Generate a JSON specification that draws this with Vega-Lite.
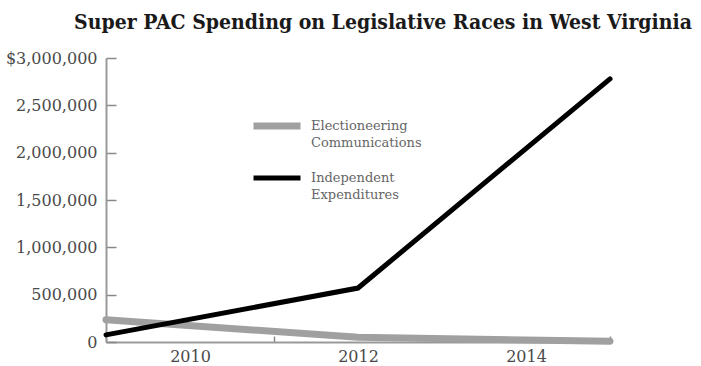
{
  "$schema": "https://vega.github.io/schema/vega-lite/v6.json",
  "width": 504,
  "height": 284,
  "autosize": "none",
  "padding": {"left": 106, "top": 58, "right": 91, "bottom": 24},
  "background": "white",
  "title": {
    "text": "Super PAC Spending on Legislative Races in West Virginia",
    "font": "DejaVu Serif Condensed",
    "fontSize": 21,
    "fontWeight": "bold",
    "color": "#1a1a1a",
    "anchor": "middle",
    "dx": 25,
    "dy": 20,
    "baseline": "alphabetic",
    "offset": 20
  },
  "data": {
    "values": [
      {"year": 2009, "series": "Electioneering Communications", "amount": 235000},
      {"year": 2012, "series": "Electioneering Communications", "amount": 50000},
      {"year": 2015, "series": "Electioneering Communications", "amount": 8000},
      {"year": 2009, "series": "Independent Expenditures", "amount": 75000},
      {"year": 2012, "series": "Independent Expenditures", "amount": 570000},
      {"year": 2015, "series": "Independent Expenditures", "amount": 2780000}
    ]
  },
  "mark": {"type": "line", "strokeCap": "round", "strokeJoin": "miter"},
  "encoding": {
    "x": {
      "field": "year",
      "type": "quantitative",
      "scale": {"domain": [2009, 2015], "nice": false, "zero": false},
      "axis": {
        "title": null,
        "grid": false,
        "values": [2009, 2010, 2011, 2012, 2013, 2014, 2015],
        "format": "d",
        "labelExpr": "datum.value % 2 == 0 ? datum.label : ''",
        "tickOpacity": {"condition": {"test": "datum.value % 2 == 0", "value": 0}, "value": 1},
        "tickSize": -6,
        "tickWidth": 1.5,
        "tickColor": "#888888",
        "domainColor": "#999999",
        "domainWidth": 2,
        "labelFont": "DejaVu Serif",
        "labelFontSize": 16,
        "labelColor": "#4a4a4a",
        "labelPadding": 12,
        "labelFlush": false
      }
    },
    "y": {
      "field": "amount",
      "type": "quantitative",
      "scale": {"domain": [0, 3000000], "nice": false},
      "axis": {
        "title": null,
        "grid": false,
        "values": [0, 500000, 1000000, 1500000, 2000000, 2500000, 3000000],
        "labelExpr": "datum.value == 3000000 ? '$3,000,000' : format(datum.value, ',')",
        "tickSize": -10,
        "tickWidth": 1.5,
        "tickColor": "#888888",
        "domainColor": "#999999",
        "domainWidth": 2,
        "labelFont": "DejaVu Serif",
        "labelFontSize": 16,
        "labelColor": "#4a4a4a",
        "labelPadding": 19
      }
    },
    "color": {
      "field": "series",
      "type": "nominal",
      "scale": {
        "domain": ["Electioneering Communications", "Independent Expenditures"],
        "range": ["#a0a0a0", "#000000"]
      },
      "legend": {
        "title": null,
        "orient": "none",
        "legendX": 144,
        "legendY": 41,
        "symbolType": "stroke",
        "symbolSize": 2209,
        "symbolStrokeWidth": 5,
        "labelExpr": "split(datum.label, ' ')",
        "labelFont": "DejaVu Serif",
        "labelFontSize": 13,
        "labelColor": "#666666",
        "labelOffset": 7,
        "rowPadding": 2
      }
    },
    "strokeWidth": {
      "field": "series",
      "type": "nominal",
      "scale": {
        "domain": ["Electioneering Communications", "Independent Expenditures"],
        "range": [7, 5]
      },
      "legend": null
    }
  },
  "config": {
    "view": {"stroke": null},
    "style": {"guide-label": {"lineHeight": 17}}
  }
}
